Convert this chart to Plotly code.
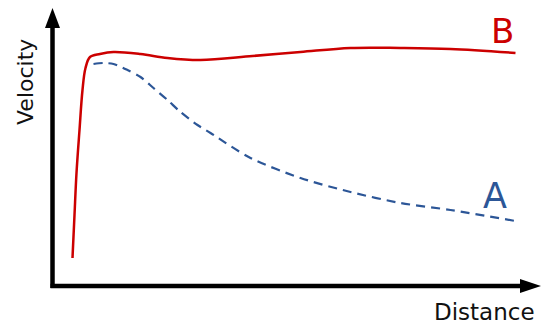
import plotly.graph_objects as go

# Data (units: distance / velocity, arbitrary)
b_dist = [20, 22, 24, 27, 30, 33, 37.5, 47.5, 61, 88, 115, 148, 200, 248, 298, 348, 398, 463]
b_vel = [28, 71, 113, 156, 196, 218, 229, 232, 234, 232, 228, 226, 230, 234, 238, 238, 237, 233]
a_dist = [41, 51, 61, 75, 88, 101, 115, 128, 145, 158, 198, 248, 298, 348, 398, 463]
a_vel = [222, 223, 222, 216, 209, 198, 186, 174, 161, 153, 128, 108, 94, 83, 76, 65]

W, H = 556, 331
ox, oy = 52.5, 286  # pixel origin

fig = go.Figure()
fig.add_trace(go.Scatter(x=b_dist, y=b_vel, mode="lines", line=dict(color="#cc0000", width=2.5, shape="spline", smoothing=1), hoverinfo="skip"))
fig.add_trace(go.Scatter(x=a_dist, y=a_vel, mode="lines", line=dict(color="#2c5697", width=2.2, dash="9px,6px", shape="spline", smoothing=0.8), hoverinfo="skip"))

shapes = [
    dict(type="line", x0=0, y0=-2, x1=0, y1=286 - 26, line=dict(color="black", width=4.5)),
    dict(type="path", path=f"M -7.5 {286-28} L 0 {286-8} L 7.5 {286-28} Z", fillcolor="black", line=dict(color="black", width=0)),
    dict(type="line", x0=-2, y0=0, x1=521 - ox, y1=0, line=dict(color="black", width=4.5)),
    dict(type="path", path=f"M {520-ox} 7 L {541-ox} 0 L {520-ox} -7 Z", fillcolor="black", line=dict(color="black", width=0)),
]

annotations = [
    dict(x=484 - ox, y=oy - 312, text="Distance", showarrow=False, font=dict(family="DejaVu Sans", size=23, color="#111111"), xanchor="center", yanchor="middle"),
    dict(x=25 - ox, y=oy - 82, text="Velocity", textangle=-90, showarrow=False, font=dict(family="DejaVu Sans", size=22, color="#111111"), xanchor="center", yanchor="middle"),
    dict(x=495 - ox, y=oy - 196, text="A", showarrow=False, font=dict(family="DejaVu Sans", size=35, color="#2c5697"), xanchor="center", yanchor="middle"),
    dict(x=502 - ox, y=oy - 31, text="B", showarrow=False, font=dict(family="DejaVu Sans", size=34, color="#cc0000"), xanchor="center", yanchor="middle"),
]

fig.update_layout(
    width=W, height=H, margin=dict(l=0, r=0, t=0, b=0),
    paper_bgcolor="white", plot_bgcolor="white", showlegend=False,
    xaxis=dict(range=[-ox, W - ox], visible=False, fixedrange=True),
    yaxis=dict(range=[oy - H, oy], visible=False, fixedrange=True),
    shapes=shapes, annotations=annotations,
)
fig.write_html("out.html", config={"displayModeBar": False})
